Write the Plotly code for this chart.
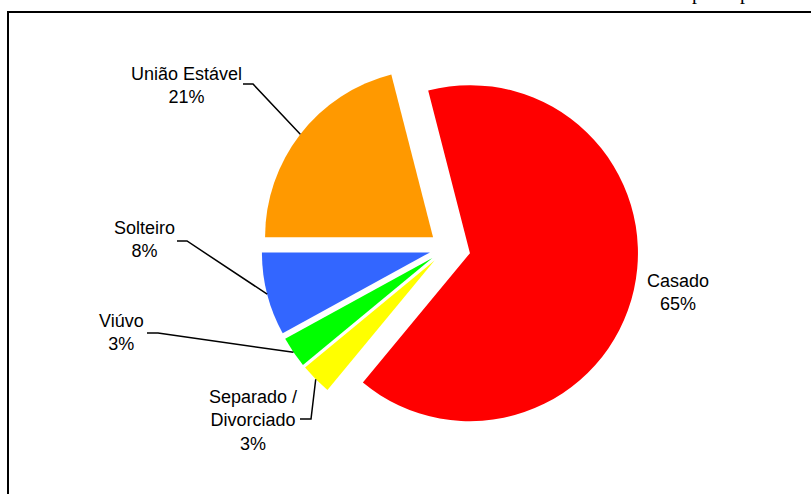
import math
import plotly.graph_objects as go

# Estado civil dos entrevistados (%)
labels = ["Casado", "Separado /<br>Divorciado", "Viúvo", "Solteiro", "União Estável"]
shares = [65, 3, 3, 8, 21]
colors = ["#FF0000", "#FFFF00", "#00FF00", "#3366FF", "#FF9900"]
pulls = [0.14, 0.105, 0.105, 0.105, 0.105]

W, H = 811, 494
ROTATION = -14.4          # start angle of the first slice (deg, clockwise from 12 o'clock)
CX, CY, R = 447, 248, 168  # pie centre and radius in pixels
FONT = "Liberation Sans, Arial, sans-serif"

half = R * (1 + max(pulls))
dom_y = [1 - (CY + half) / H, 1 - (CY - half) / H]
dom_x = [(CX - half - 6) / W, (CX + half + 6) / W]


def px(x, y):
    return x / W, 1 - y / H


# arc point on each slice's bisector, after the pull is applied
total = sum(shares)
arc_pts = []
start = ROTATION
for v, p in zip(shares, pulls):
    mid = math.radians(start + 180.0 * v / total)
    ax = CX + p * R * math.sin(mid)
    ay = CY - p * R * math.cos(mid)
    arc_pts.append((ax + R * math.sin(mid), ay - R * math.cos(mid)))
    start += 360.0 * v / total

fig = go.Figure(go.Pie(
    labels=labels,
    values=shares,
    sort=False,
    direction="clockwise",
    rotation=ROTATION,
    pull=pulls,
    marker=dict(colors=colors, line=dict(width=0)),
    textinfo="none",
    hoverinfo="label+percent",
    showlegend=False,
    domain=dict(x=dom_x, y=dom_y),
))

# label block centres (px) and leader elbows (px) per slice
label_layout = {
    0: dict(xy=(678, 292), elbow=None),
    1: dict(xy=(253, 420), elbow=[(300, 419), (311, 419)]),
    2: dict(xy=(122, 332), elbow=[(147, 333), (158, 333)]),
    3: dict(xy=(144, 240), elbow=[(177, 241), (187, 241)]),
    4: dict(xy=(186, 85), elbow=[(243, 84), (253, 84)]),
}

shapes = []
annotations = []
for i, (lab, v) in enumerate(zip(labels, shares)):
    cfg = label_layout[i]
    x, y = px(*cfg["xy"])
    annotations.append(dict(
        x=x, y=y, xref="paper", yref="paper", xanchor="center", yanchor="middle",
        text=f"{lab}<br>{round(100 * v / total)}%", showarrow=False, align="center",
        font=dict(family=FONT, size=18, color="#000000"),
    ))
    if cfg["elbow"]:
        pts = cfg["elbow"] + [arc_pts[i]]
        path = "M " + " L ".join(f"{px(a, b)[0]:.5f},{px(a, b)[1]:.5f}" for a, b in pts)
        shapes.append(dict(type="path", xref="paper", yref="paper", path=path,
                           line=dict(color="#000000", width=1.5)))

# frame around the chart (extends past the right and bottom edges)
shapes.append(dict(type="rect", xref="paper", yref="paper",
                   x0=8 / W, x1=1.05, y0=-0.05, y1=1 - 12 / H,
                   line=dict(color="#000000", width=2), fillcolor="rgba(0,0,0,0)"))

# tail of the running text line above the frame
for gx in (697, 745):
    annotations.append(dict(
        x=gx / W, y=1 - 6 / H, xref="paper", yref="paper", xanchor="center", yanchor="bottom",
        text="p", showarrow=False,
        font=dict(family="Liberation Serif, Times New Roman, serif", size=20, color="#000000"),
    ))

fig.update_layout(
    width=W, height=H,
    margin=dict(l=0, r=0, t=0, b=0),
    paper_bgcolor="#FFFFFF",
    plot_bgcolor="#FFFFFF",
    shapes=shapes,
    annotations=annotations,
)

fig.write_html("out.html")
